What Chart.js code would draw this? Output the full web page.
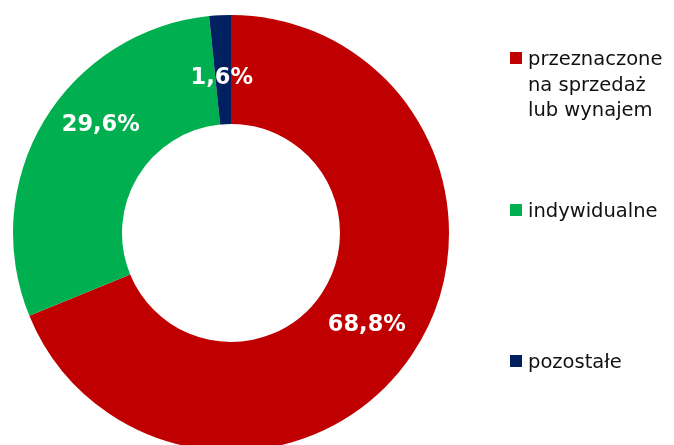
<!DOCTYPE html>
<html>
<head>
<meta charset="utf-8">
<script src="https://cdn.jsdelivr.net/npm/chart.js@4"></script>
<style>
	html, body { margin: 0; padding: 0; background: #fff; overflow: hidden; }
	#wrap { width: 674px; height: 466px; position: relative; }
</style>
</head>
<body>
<div id="wrap"><canvas id="chartDonut"></canvas></div>
<script>
// ---- Data ----
const categories = [
	["przeznaczone", "na sprzedaż", "lub wynajem"],
	["indywidualne"],
	["pozostałe"],
];
const shares = [68.8, 29.6, 1.6];
const sliceLabels = ["68,8%", "29,6%", "1,6%"];
const colors = ["#C00000", "#00B050", "#002060"];

// ---- Plugins ----
// etykiety w środku wycinków (przesunięcia jak w oryginale)
const sliceLabelPlugin = {
	id: "sliceLabels",
	afterDatasetsDraw(chart, args, opts) {
		const ctx = chart.ctx;
		const meta = chart.getDatasetMeta(0);
		ctx.save();
		ctx.font = "bold 22.5px 'DejaVu Sans', Verdana, sans-serif";
		ctx.fillStyle = "#fff";
		ctx.textAlign = "center";
		ctx.textBaseline = "middle";
		meta.data.forEach((arc, i) => {
			const p = arc.tooltipPosition();
			const off = opts.offsets[i] || [0, 0];
			ctx.fillText(sliceLabels[i], p.x + off[0], p.y + off[1]);
		});
		ctx.restore();
	},
};

// legenda po prawej, z tekstem wieloliniowym
const sideLegendPlugin = {
	id: "sideLegend",
	afterDraw(chart, args, opts) {
		const ctx = chart.ctx;
		ctx.save();
		ctx.font = "19.5px 'DejaVu Sans', Verdana, sans-serif";
		ctx.textBaseline = "alphabetic";
		ctx.textAlign = "left";
		categories.forEach((lines, i) => {
			const base = opts.baselines[i];
			ctx.fillStyle = colors[i];
			ctx.fillRect(opts.x, base - 13, 12, 12);
			ctx.fillStyle = "#111";
			lines.forEach((t, j) => {
				ctx.fillText(t, opts.x + 18, base + j * opts.lineHeight);
			});
		});
		ctx.restore();
	},
};

// ---- Chart ----
new Chart(document.getElementById("chartDonut"), {
	type: "doughnut",
	data: {
		labels: categories.map((c) => c.join(" ")),
		datasets: [
			{
				data: shares,
				backgroundColor: colors,
				borderWidth: 0,
			},
		],
	},
	options: {
		responsive: true,
		maintainAspectRatio: false,
		animation: false,
		radius: 218,
		cutout: "50%",
		layout: { padding: { left: 0, top: 0, right: 212, bottom: 0 } },
		plugins: {
			legend: { display: false },
			tooltip: { enabled: false },
			sliceLabels: { offsets: [[0, 1], [10, -24], [-1, 8]] },
			sideLegend: { x: 510, baselines: [65, 217, 368], lineHeight: 25.5 },
		},
	},
	plugins: [sliceLabelPlugin, sideLegendPlugin],
});
</script>
</body>
</html>
